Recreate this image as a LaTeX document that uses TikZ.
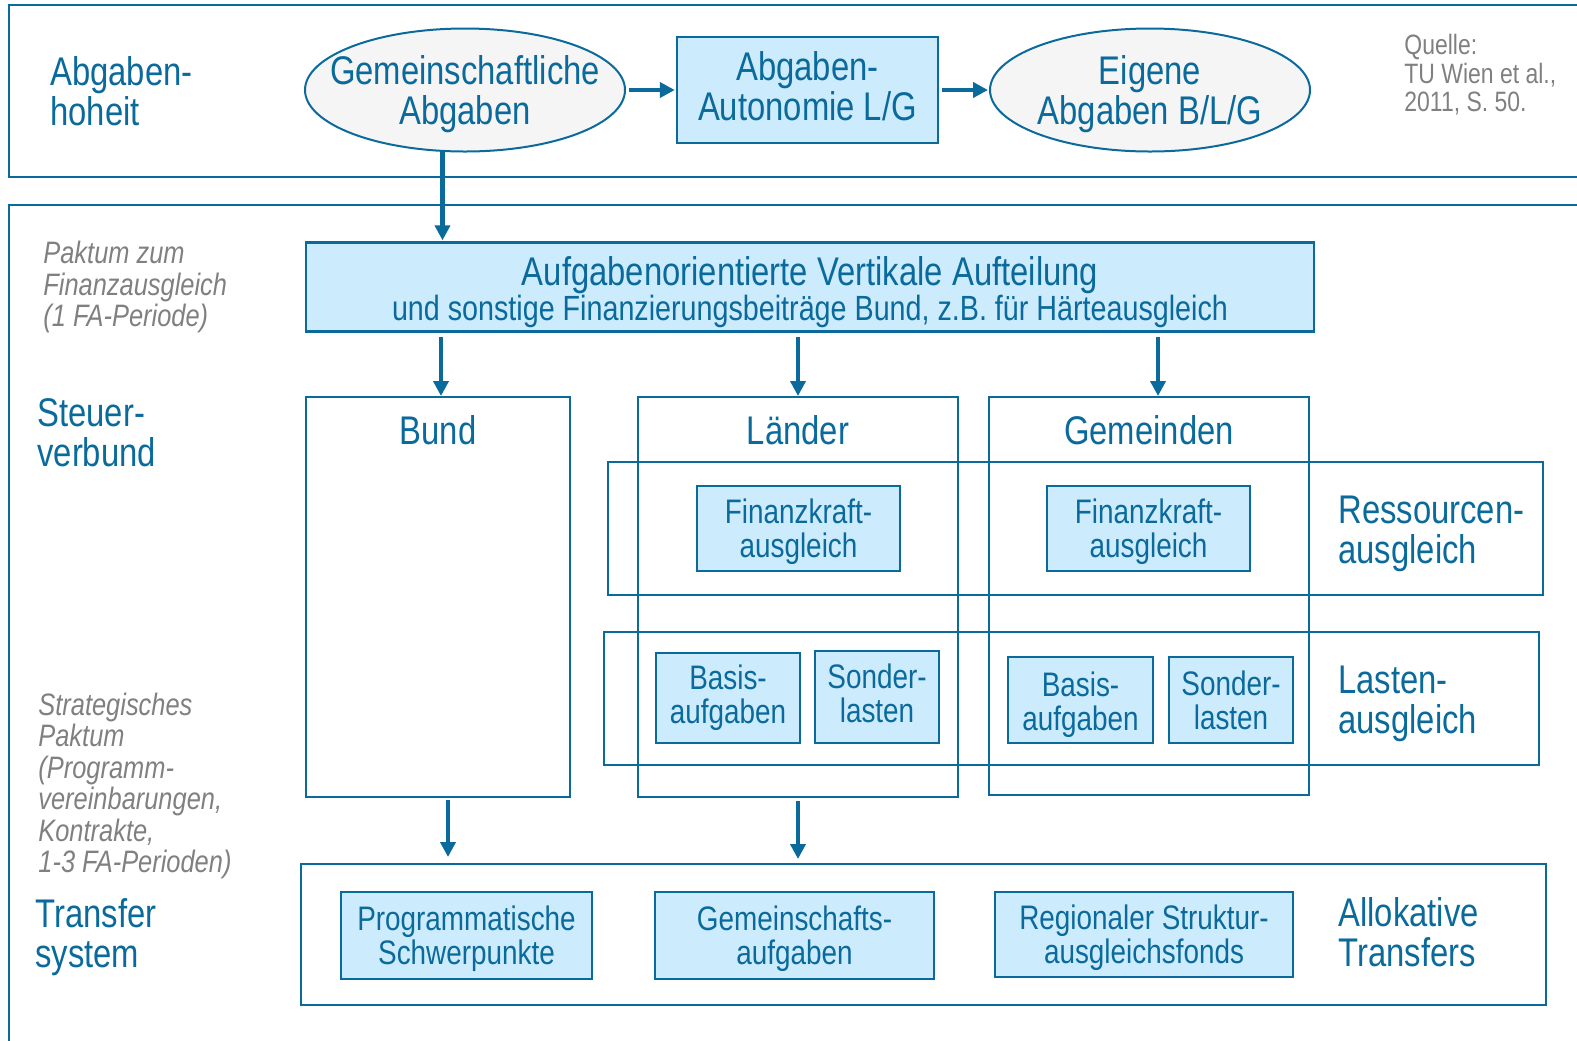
\documentclass[tikz,border=0pt]{standalone}
\usepackage{fontspec}
\setmainfont{Liberation Sans}[FakeStretch=0.82]
\usetikzlibrary{positioning,shapes.geometric,arrows.meta}
\definecolor{fablue}{HTML}{0B6A9C}
\definecolor{falight}{HTML}{CCEBFD}
\definecolor{fagrey}{HTML}{F5F5F5}
\definecolor{fanote}{HTML}{808080}

\begin{document}
\begin{tikzpicture}[
  x=0.5pt, y=-0.5pt,
  textsink/.style={
        execute at end node={\rule[-#1]{0pt}{#1}}
  },
  framestyle/.style={
        draw=fablue,
        line width=1pt
  },
  boxstyle/.style={
        draw=fablue,
        line width=1.2pt,
        fill=falight,
        text=fablue,
        align=center,
        inner sep=0pt,
        font=\fontsize{17}{17}\selectfont
  },
  bigbox/.style={
        boxstyle,
        font=\fontsize{20}{20}\selectfont
  },
  ellstyle/.style={
        draw=fablue,
        line width=1pt,
        fill=fagrey,
        ellipse,
        inner sep=0pt,
        minimum width=160pt,
        minimum height=61.5pt
  },
  elltext/.style={
        text=fablue,
        align=center,
        inner sep=0pt,
        font=\fontsize{20}{20}\selectfont
  },
  colstyle/.style={
        draw=fablue,
        line width=1pt,
        inner sep=0pt,
        minimum width=160pt,
        minimum height=200pt
  },
  headstyle/.style={
        text=fablue,
        align=left,
        anchor=west,
        inner sep=0pt,
        font=\fontsize{20}{20}\selectfont
  },
  collabel/.style={
        text=fablue,
        inner sep=0pt,
        font=\fontsize{20}{20}\selectfont
  },
  notestyle/.style={
        text=fanote,
        align=left,
        anchor=west,
        inner sep=0pt,
        font=\fontsize{15.5}{15.75}\selectfont\itshape
  },
  arrowstyle/.style={
        draw=fablue,
        line width=2.2pt,
        -{Triangle[width=7.5pt,length=7.5pt]}
  }
]

    \useasboundingbox (0,0) rectangle (1577,1040);
    \clip (0,0) rectangle (1577,1040);

    \draw[framestyle] (9,5) rectangle (1600,177);
    \draw[framestyle] (9,205) rectangle (1600,1060);

    \node[headstyle] (AbgHoheit) at (50,91) {Abgaben-\\hoheit};
    \node[ellstyle] (GemAbg) at (465,90) {};
    \node[elltext] (GemAbgText) at ([yshift=-2.25pt]GemAbg) {Gemeinschaftliche\\Abgaben};
    \node[bigbox, textsink=4.4pt, minimum width=130.5pt, minimum height=53pt] (AbgAuto) at (807.5,90) {Abgaben-\\Autonomie L/G};
    \node[ellstyle] (EigAbg) at (1150,90) {};
    \node[elltext] (EigAbgText) at ([yshift=-2.25pt]EigAbg) {Eigene\\Abgaben B/L/G};
    \node[notestyle, font=\fontsize{14}{14.25}\selectfont] (Quelle) at (1404,75) {Quelle:\\TU Wien et al.,\\2011, S. 50.};

    \node[notestyle] (PaktFA) at (43,287) {Paktum zum\\Finanzausgleich\\(1 FA-Periode)};
    \node[bigbox, minimum width=504pt, minimum height=44.5pt] (Aufg) at (810,287)
      {\rule{0pt}{19.6pt}Aufgabenorientierte Vertikale Aufteilung\\[-2.5pt]\fontsize{17.5}{18}\selectfont und sonstige Finanzierungsbeiträge Bund, z.B. für Härteausgleich};

    \node[headstyle] (SteuerV) at (37,433) {Steuer-\\verbund};
    \node[colstyle, minimum width=132pt] (Bund) at (438,597) {};
    \node[colstyle] (Laender) at (798,597) {};
    \node[colstyle, minimum height=199pt] (Gemeinden) at (1149,596) {};
    \node[collabel] (BundLabel) at (438,430) {Bund};
    \node[collabel] (LaenderLabel) at (798,430) {Länder};
    \node[collabel] (GemeindenLabel) at (1149,430) {Gemeinden};

    \draw[framestyle] (608,462) rectangle (1543,595);
    \draw[framestyle] (604,632) rectangle (1539,765);
    \node[headstyle] (RessAusgl) at (1338,534) {Ressourcen-\\ausgleich};
    \node[headstyle] (LastAusgl) at (1338,703.5) {Lasten-\\ausgleich};

    \node[boxstyle, minimum width=101.5pt, minimum height=42.5pt] (FinL) at (798.5,528.5) {\rule{0pt}{15.4pt}Finanzkraft-\\ausgleich};
    \node[boxstyle, minimum width=101.5pt, minimum height=42.5pt] (FinG) at (1148.5,528.5) {\rule{0pt}{15.4pt}Finanzkraft-\\ausgleich};
    \node[boxstyle, minimum width=72pt, minimum height=45pt] (BasisL) at (728,698) {Basis-\\aufgaben};
    \node[boxstyle, textsink=4pt, minimum width=62pt, minimum height=46pt] (SonderL) at (877,697) {Sonder-\\lasten};
    \node[boxstyle, minimum width=72.5pt, minimum height=43pt] (BasisG) at (1080.5,700) {\rule{0pt}{16.7pt}Basis-\\aufgaben};
    \node[boxstyle, minimum width=62pt, minimum height=43pt] (SonderG) at (1231,700) {Sonder-\\lasten};

    \node[notestyle] (StratPakt) at (38,786) {Strategisches\\Paktum\\(Programm-\\vereinbarungen,\\Kontrakte,\\1-3 FA-Perioden)};
    \node[headstyle] (TransSys) at (35,937) {Transfer\\system};
    \node[framestyle, inner sep=0pt, minimum width=622.5pt, minimum height=70.5pt] (Transfer) at (923.5,934.5) {};
    \node[boxstyle, minimum width=125.5pt, minimum height=43.5pt] (ProgSchw) at (466.5,935.5) {\rule{0pt}{15.9pt}Programmatische\\Schwerpunkte};
    \node[boxstyle, minimum width=139.5pt, minimum height=43.5pt] (GemAufg) at (794.5,935.5) {\rule{0pt}{15.9pt}Gemeinschafts-\\aufgaben};
    \node[boxstyle, minimum width=149pt, minimum height=42.5pt] (RegFonds) at (1144,934.5) {\rule{0pt}{15.9pt}Regionaler Struktur-\\ausgleichsfonds};
    \node[headstyle] (AllokTr) at (1338,932.5) {Allokative\\Transfers};

    \draw[arrowstyle, shorten <=1.5pt, shorten >=0.5pt] (GemAbg.east) -- (AbgAuto.west);
    \draw[arrowstyle, shorten <=1.5pt, shorten >=0.5pt] (AbgAuto.east) -- (EigAbg.west);
    \draw[arrowstyle, shorten >=0.5pt] (GemAbg.250) -- (GemAbg.250 |- Aufg.north);
    \draw[arrowstyle, shorten <=2pt] ([xshift=1.5pt]Aufg.south -| Bund.north) -- ([xshift=1.5pt]Bund.north);
    \draw[arrowstyle, shorten <=2pt] (Aufg.south -| Laender.north) -- (Laender.north);
    \draw[arrowstyle, shorten <=2pt] ([xshift=4.5pt]Aufg.south -| Gemeinden.north) -- ([xshift=4.5pt]Gemeinden.north);
    \draw[arrowstyle, shorten <=1pt, shorten >=3pt] ([xshift=5pt]Bund.south) -- ([xshift=5pt]Bund.south |- Transfer.north);
    \draw[arrowstyle, shorten <=1.5pt, shorten >=2pt] (Laender.south) -- (Laender.south |- Transfer.north);
\end{tikzpicture}
\end{document}
